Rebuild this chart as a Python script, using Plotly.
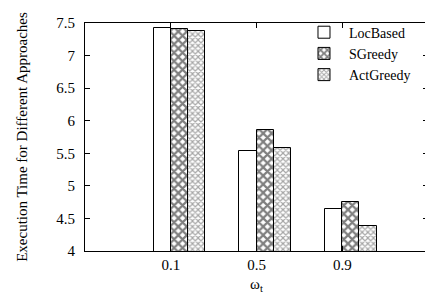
import plotly.graph_objects as go

categories = ["0.1", "0.5", "0.9"]
loc_based = [7.42, 5.54, 4.65]
s_greedy = [7.41, 5.85, 4.745]
act_greedy = [7.37, 5.575, 4.39]
y_ticks = [4, 4.5, 5, 5.5, 6, 6.5, 7, 7.5]
y_tick_labels = ["4", "4.5", "5", "5.5", "6", "6.5", "7", "7.5"]

FONT = "Times New Roman, Liberation Serif, serif"

fig = go.Figure()
fig.add_trace(go.Bar(
    x=categories, y=loc_based, name="LocBased",
    width=0.2, offset=-0.2,
    marker=dict(color="white", line=dict(color="black", width=1)),
))
fig.add_trace(go.Bar(
    x=categories, y=s_greedy, name="SGreedy",
    width=0.2, offset=0.0,
    marker=dict(color="white", line=dict(color="black", width=1),
                pattern=dict(shape="x", size=6, solidity=0.6,
                             fgcolor="black", bgcolor="white")),
))
fig.add_trace(go.Bar(
    x=categories, y=act_greedy, name="ActGreedy",
    width=0.2, offset=0.2,
    marker=dict(color="white", line=dict(color="black", width=1),
                pattern=dict(shape="x", size=4, solidity=0.5,
                             fgcolor="#4d4d4d", bgcolor="white")),
))

fig.update_layout(
    width=425, height=295,
    margin=dict(l=77, r=5, t=15, b=52, pad=0),
    plot_bgcolor="white", paper_bgcolor="white",
    font=dict(family=FONT, size=15, color="black"),
    bargap=0,
    showlegend=True,
    legend=dict(x=0.965, y=1.028, xanchor="right", yanchor="top",
                bgcolor="rgba(0,0,0,0)", font=dict(family=FONT, size=14),
                tracegroupgap=0, itemwidth=40),
    xaxis=dict(type="category", range=[-1, 3], automargin=False,
               showline=True, linecolor="black", linewidth=1, mirror="ticks",
               ticks="inside", ticklen=5, tickcolor="black",
               showgrid=False, zeroline=False,
               tickfont=dict(family=FONT, size=15),
               title=dict(text="ω<sub>t</sub>", font=dict(family=FONT, size=15), standoff=6)),
    yaxis=dict(range=[4, 7.5], tickvals=y_ticks, ticktext=y_tick_labels,
               automargin=False,
               showline=True, linecolor="black", linewidth=1, mirror="ticks",
               ticks="inside", ticklen=5, tickcolor="black",
               showgrid=False, zeroline=False, ticklabelstandoff=6,
               tickfont=dict(family=FONT, size=15),
               title=dict(text="Execution Time for Different Approaches",
                          font=dict(family=FONT, size=15), standoff=25)),
)

fig.write_html("out.html")
